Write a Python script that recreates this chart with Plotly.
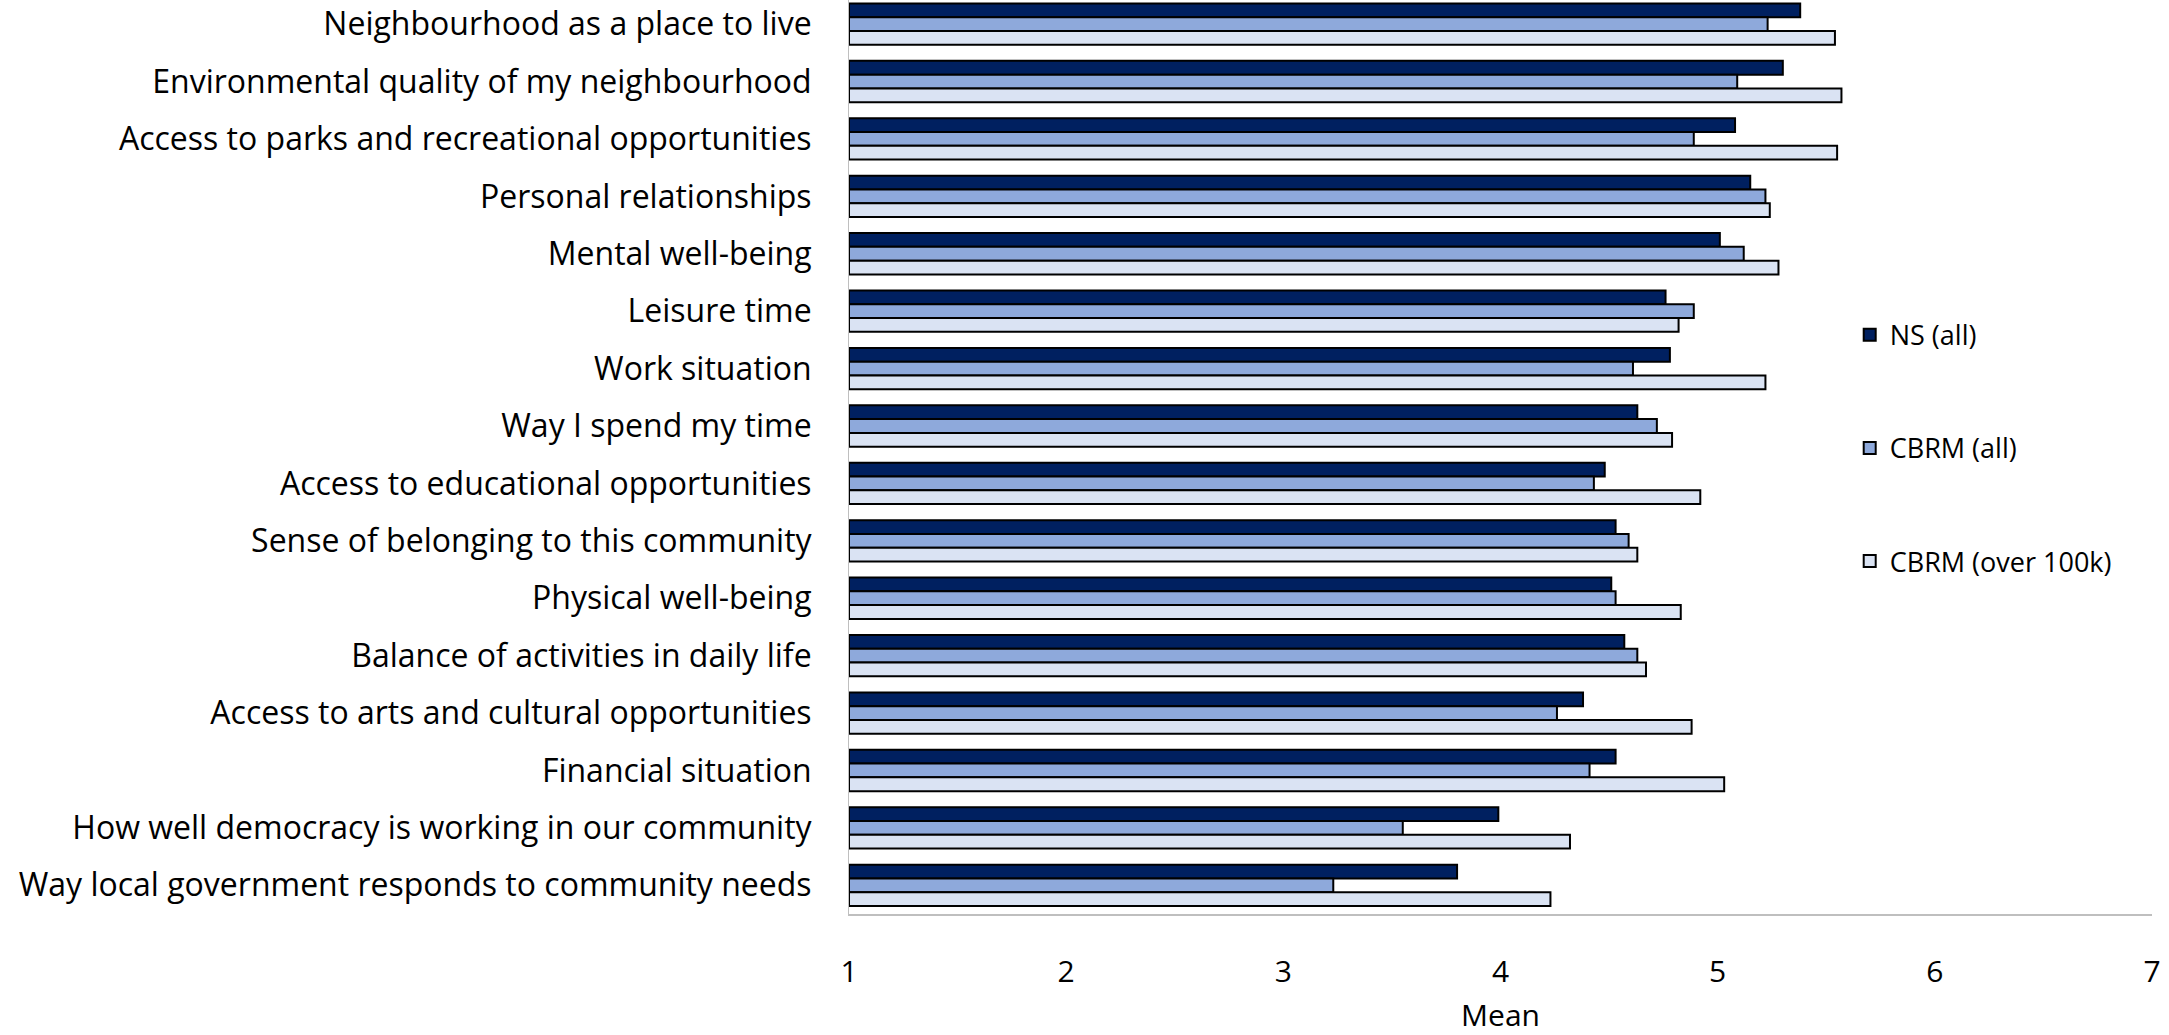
import plotly.graph_objects as go

categories = [
    "Neighbourhood as a place to live",
    "Environmental quality of my neighbourhood",
    "Access to parks and recreational opportunities",
    "Personal relationships",
    "Mental well-being",
    "Leisure time",
    "Work situation",
    "Way I spend my time",
    "Access to educational opportunities",
    "Sense of belonging to this community",
    "Physical well-being",
    "Balance of activities in daily life",
    "Access to arts and cultural opportunities",
    "Financial situation",
    "How well democracy is working in our community",
    "Way local government responds to community needs",
]

ns_all = [5.38, 5.30, 5.08, 5.15, 5.01, 4.76, 4.78, 4.63, 4.48, 4.53, 4.51, 4.57, 4.38, 4.53, 3.99, 3.80]
cbrm_all = [5.23, 5.09, 4.89, 5.22, 5.12, 4.89, 4.61, 4.72, 4.43, 4.59, 4.53, 4.63, 4.26, 4.41, 3.55, 3.23]
cbrm_100k = [5.54, 5.57, 5.55, 5.24, 5.28, 4.82, 5.22, 4.79, 4.92, 4.63, 4.83, 4.67, 4.88, 5.03, 4.32, 4.23]

series_names = ["NS (all)", "CBRM (all)", "CBRM (over 100k)"]
series_values = [ns_all, cbrm_all, cbrm_100k]
colors = ["#002060", "#8EA9DB", "#DAE3F3"]

FONT = "Open Sans"

fig = go.Figure()
for name, vals, col in zip(series_names, series_values, colors):
    fig.add_trace(go.Bar(
        y=categories, x=[v - 1 for v in vals], base=1, orientation="h",
        name=name, legendgroup=name,
        marker=dict(color=col, line=dict(color="#000000", width=2)),
    ))

fig.update_layout(
    width=2169, height=1035,
    margin=dict(l=849, r=17, t=0, b=121),
    paper_bgcolor="white", plot_bgcolor="white",
    barmode="group", bargap=0.28, bargroupgap=0,
    font=dict(family=FONT, size=32, color="#000000"),
    showlegend=True,
    legend=dict(
        x=0.768, y=0.660, xanchor="left", yanchor="top",
        font=dict(family=FONT, size=27, color="#000000"),
        traceorder="grouped", tracegroupgap=75,
        itemwidth=30, bgcolor="rgba(0,0,0,0)",
    ),
    xaxis=dict(
        range=[1, 7], tickvals=[1, 2, 3, 4, 5, 6, 7],
        showgrid=False, zeroline=False,
        showline=True, linecolor="#BFBFBF", linewidth=2,
        ticks="", ticklabelstandoff=30,
        tickfont=dict(family=FONT, size=30),
        title=dict(text="Mean", standoff=22, font=dict(family=FONT, size=30)),
    ),
    yaxis=dict(
        type="category", range=[15.5, -0.42],
        showgrid=False, zeroline=False,
        showline=True, linecolor="#BFBFBF", linewidth=1,
        ticks="", ticklabelstandoff=30,
        tickfont=dict(family=FONT, size=32),
    ),
)

fig.write_html("out.html")
